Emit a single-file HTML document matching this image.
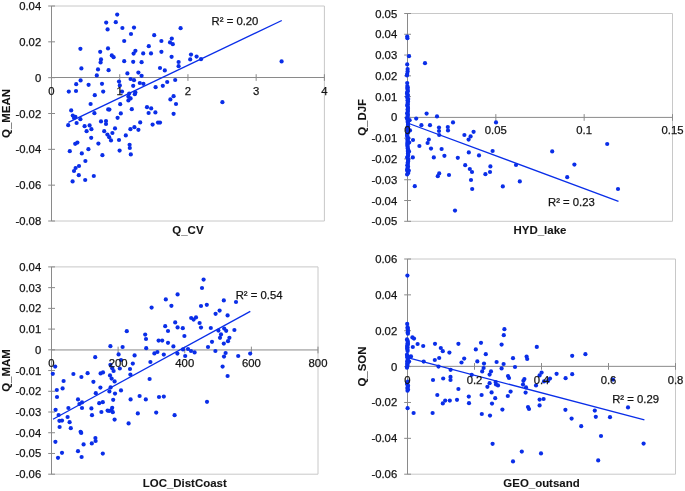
<!DOCTYPE html>
<html><head><meta charset="utf-8"><style>
html,body{margin:0;padding:0;background:#fff;}
svg{display:block;will-change:transform;}
text{font-family:"Liberation Sans",sans-serif;font-size:11.3px;fill:#141414;stroke:#141414;stroke-width:0.25px;}
.b{font-weight:bold;font-size:11.45px;stroke-width:0.08px;}
</style></head><body>
<svg width="685" height="491" viewBox="0 0 685 491">
<rect width="685" height="491" fill="#fff"/>
<path d="M51.5 6H324.4V221" fill="none" stroke="#c8c8c8" stroke-width="1"/>
<path d="M51.5 221H324.4" fill="none" stroke="#c8c8c8" stroke-width="1"/>
<path d="M51.5 6V221" stroke="#8a8a8a" stroke-width="1"/>
<path d="M51.5 77.50H324.4" stroke="#8a8a8a" stroke-width="1"/>
<path d="M48.2 6.00H55.0" stroke="#8a8a8a" stroke-width="1"/>
<path d="M48.2 41.83H55.0" stroke="#8a8a8a" stroke-width="1"/>
<path d="M48.2 77.67H55.0" stroke="#8a8a8a" stroke-width="1"/>
<path d="M48.2 113.50H55.0" stroke="#8a8a8a" stroke-width="1"/>
<path d="M48.2 149.33H55.0" stroke="#8a8a8a" stroke-width="1"/>
<path d="M48.2 185.17H55.0" stroke="#8a8a8a" stroke-width="1"/>
<path d="M48.2 221.00H55.0" stroke="#8a8a8a" stroke-width="1"/>
<path d="M51.50 74.20V80.90" stroke="#8a8a8a" stroke-width="1"/>
<path d="M119.72 74.20V80.90" stroke="#8a8a8a" stroke-width="1"/>
<path d="M187.95 74.20V80.90" stroke="#8a8a8a" stroke-width="1"/>
<path d="M256.17 74.20V80.90" stroke="#8a8a8a" stroke-width="1"/>
<path d="M324.40 74.20V80.90" stroke="#8a8a8a" stroke-width="1"/>
<g fill="#0a2ee8"><circle cx="117.2" cy="14.6" r="2.1"/><circle cx="106.2" cy="22.6" r="2.1"/><circle cx="115.8" cy="22.2" r="2.1"/><circle cx="107.6" cy="29.4" r="2.1"/><circle cx="122.4" cy="28.0" r="2.1"/><circle cx="134.0" cy="27.6" r="2.1"/><circle cx="180.6" cy="28.2" r="2.1"/><circle cx="131.0" cy="34.0" r="2.1"/><circle cx="154.2" cy="35.2" r="2.1"/><circle cx="124.2" cy="41.0" r="2.1"/><circle cx="161.4" cy="41.0" r="2.1"/><circle cx="171.8" cy="38.6" r="2.1"/><circle cx="170.0" cy="42.4" r="2.1"/><circle cx="172.8" cy="44.2" r="2.1"/><circle cx="80.4" cy="48.8" r="2.1"/><circle cx="108.0" cy="48.4" r="2.1"/><circle cx="148.8" cy="46.2" r="2.1"/><circle cx="100.2" cy="51.8" r="2.1"/><circle cx="135.4" cy="50.8" r="2.1"/><circle cx="133.6" cy="53.6" r="2.1"/><circle cx="143.2" cy="53.4" r="2.1"/><circle cx="151.0" cy="53.4" r="2.1"/><circle cx="161.4" cy="51.8" r="2.1"/><circle cx="111.8" cy="55.4" r="2.1"/><circle cx="113.6" cy="57.2" r="2.1"/><circle cx="171.6" cy="56.8" r="2.1"/><circle cx="101.0" cy="59.4" r="2.1"/><circle cx="100.6" cy="62.4" r="2.1"/><circle cx="124.2" cy="61.2" r="2.1"/><circle cx="133.2" cy="61.8" r="2.1"/><circle cx="141.6" cy="62.2" r="2.1"/><circle cx="178.6" cy="62.0" r="2.1"/><circle cx="178.6" cy="66.2" r="2.1"/><circle cx="81.4" cy="68.4" r="2.1"/><circle cx="98.0" cy="69.4" r="2.1"/><circle cx="108.6" cy="70.2" r="2.1"/><circle cx="160.0" cy="68.0" r="2.1"/><circle cx="164.8" cy="70.4" r="2.1"/><circle cx="127.4" cy="73.4" r="2.1"/><circle cx="138.4" cy="72.6" r="2.1"/><circle cx="96.8" cy="75.4" r="2.1"/><circle cx="141.6" cy="75.8" r="2.1"/><circle cx="80.6" cy="80.4" r="2.1"/><circle cx="119.0" cy="81.6" r="2.1"/><circle cx="130.6" cy="79.0" r="2.1"/><circle cx="134.0" cy="80.2" r="2.1"/><circle cx="175.2" cy="80.0" r="2.1"/><circle cx="76.2" cy="84.2" r="2.1"/><circle cx="88.6" cy="84.8" r="2.1"/><circle cx="102.0" cy="83.8" r="2.1"/><circle cx="139.8" cy="83.0" r="2.1"/><circle cx="143.4" cy="83.8" r="2.1"/><circle cx="167.2" cy="82.0" r="2.1"/><circle cx="119.8" cy="85.4" r="2.1"/><circle cx="133.2" cy="85.8" r="2.1"/><circle cx="155.6" cy="87.2" r="2.1"/><circle cx="162.8" cy="85.8" r="2.1"/><circle cx="68.8" cy="91.6" r="2.1"/><circle cx="76.0" cy="91.0" r="2.1"/><circle cx="103.2" cy="91.6" r="2.1"/><circle cx="122.0" cy="91.6" r="2.1"/><circle cx="94.8" cy="95.2" r="2.1"/><circle cx="129.2" cy="93.6" r="2.1"/><circle cx="135.4" cy="92.4" r="2.1"/><circle cx="134.8" cy="94.2" r="2.1"/><circle cx="173.6" cy="96.2" r="2.1"/><circle cx="128.4" cy="96.6" r="2.1"/><circle cx="130.6" cy="98.4" r="2.1"/><circle cx="170.4" cy="99.4" r="2.1"/><circle cx="128.4" cy="100.4" r="2.1"/><circle cx="191.0" cy="54.6" r="2.1"/><circle cx="190.2" cy="59.4" r="2.1"/><circle cx="196.6" cy="56.6" r="2.1"/><circle cx="201.0" cy="59.2" r="2.1"/><circle cx="281.6" cy="61.4" r="2.1"/><circle cx="90.6" cy="104.0" r="2.1"/><circle cx="176.0" cy="104.0" r="2.1"/><circle cx="120.2" cy="104.2" r="2.1"/><circle cx="71.2" cy="110.4" r="2.1"/><circle cx="108.2" cy="109.4" r="2.1"/><circle cx="109.4" cy="109.6" r="2.1"/><circle cx="131.8" cy="109.2" r="2.1"/><circle cx="147.0" cy="107.2" r="2.1"/><circle cx="151.2" cy="108.4" r="2.1"/><circle cx="94.4" cy="113.2" r="2.1"/><circle cx="120.8" cy="113.4" r="2.1"/><circle cx="148.6" cy="113.0" r="2.1"/><circle cx="155.4" cy="112.4" r="2.1"/><circle cx="173.6" cy="113.8" r="2.1"/><circle cx="72.8" cy="115.6" r="2.1"/><circle cx="75.4" cy="116.8" r="2.1"/><circle cx="74.0" cy="118.0" r="2.1"/><circle cx="80.4" cy="119.2" r="2.1"/><circle cx="117.6" cy="117.8" r="2.1"/><circle cx="68.2" cy="125.2" r="2.1"/><circle cx="76.6" cy="123.0" r="2.1"/><circle cx="101.0" cy="121.4" r="2.1"/><circle cx="106.0" cy="121.0" r="2.1"/><circle cx="106.0" cy="124.0" r="2.1"/><circle cx="140.2" cy="122.4" r="2.1"/><circle cx="158.0" cy="122.6" r="2.1"/><circle cx="160.0" cy="122.6" r="2.1"/><circle cx="152.6" cy="124.6" r="2.1"/><circle cx="84.6" cy="126.2" r="2.1"/><circle cx="89.6" cy="125.4" r="2.1"/><circle cx="91.4" cy="129.2" r="2.1"/><circle cx="86.6" cy="131.2" r="2.1"/><circle cx="115.0" cy="128.4" r="2.1"/><circle cx="104.2" cy="131.2" r="2.1"/><circle cx="112.4" cy="133.0" r="2.1"/><circle cx="130.4" cy="129.2" r="2.1"/><circle cx="134.4" cy="127.2" r="2.1"/><circle cx="138.4" cy="129.8" r="2.1"/><circle cx="107.4" cy="134.6" r="2.1"/><circle cx="109.2" cy="137.2" r="2.1"/><circle cx="111.0" cy="140.4" r="2.1"/><circle cx="125.8" cy="135.4" r="2.1"/><circle cx="91.2" cy="137.8" r="2.1"/><circle cx="119.0" cy="140.0" r="2.1"/><circle cx="77.4" cy="142.6" r="2.1"/><circle cx="75.2" cy="143.8" r="2.1"/><circle cx="98.4" cy="143.6" r="2.1"/><circle cx="129.6" cy="144.8" r="2.1"/><circle cx="129.8" cy="148.0" r="2.1"/><circle cx="88.4" cy="149.2" r="2.1"/><circle cx="69.8" cy="151.2" r="2.1"/><circle cx="119.6" cy="150.6" r="2.1"/><circle cx="81.8" cy="153.4" r="2.1"/><circle cx="102.4" cy="155.2" r="2.1"/><circle cx="130.8" cy="154.4" r="2.1"/><circle cx="85.4" cy="161.0" r="2.1"/><circle cx="79.0" cy="166.0" r="2.1"/><circle cx="75.6" cy="168.0" r="2.1"/><circle cx="74.0" cy="171.0" r="2.1"/><circle cx="78.8" cy="175.2" r="2.1"/><circle cx="93.8" cy="176.0" r="2.1"/><circle cx="72.6" cy="181.4" r="2.1"/><circle cx="85.2" cy="180.0" r="2.1"/><circle cx="222.4" cy="102.2" r="2.1"/></g>
<path d="M68.4 122.4L281.8 20.5" stroke="#0a2ee8" stroke-width="1.3"/>
<text x="211.6" y="25.0">R² = 0.20</text>
<text x="41.20" y="10.00" text-anchor="end">0.04</text>
<text x="41.20" y="45.83" text-anchor="end">0.02</text>
<text x="41.20" y="81.67" text-anchor="end">0</text>
<text x="41.20" y="117.50" text-anchor="end">-0.02</text>
<text x="41.20" y="153.33" text-anchor="end">-0.04</text>
<text x="41.20" y="189.17" text-anchor="end">-0.06</text>
<text x="41.20" y="225.00" text-anchor="end">-0.08</text>
<text x="51.50" y="94.50" text-anchor="middle">0</text>
<text x="119.72" y="94.50" text-anchor="middle">1</text>
<text x="187.95" y="94.50" text-anchor="middle">2</text>
<text x="256.17" y="94.50" text-anchor="middle">3</text>
<text x="324.40" y="94.50" text-anchor="middle">4</text>
<text x="187.95" y="233.70" text-anchor="middle" class="b">Q_CV</text>
<text transform="translate(9.70 113.50) rotate(-90)" text-anchor="middle" class="b">Q_MEAN</text>
<path d="M407.5 13.5H672.5V221.3" fill="none" stroke="#c8c8c8" stroke-width="1"/>
<path d="M407.5 221.3H672.5" fill="none" stroke="#c8c8c8" stroke-width="1"/>
<path d="M407.5 13.5V221.3" stroke="#8a8a8a" stroke-width="1"/>
<path d="M407.5 117.40H672.5" stroke="#8a8a8a" stroke-width="1"/>
<path d="M404.2 13.50H411.0" stroke="#8a8a8a" stroke-width="1"/>
<path d="M404.2 34.28H411.0" stroke="#8a8a8a" stroke-width="1"/>
<path d="M404.2 55.06H411.0" stroke="#8a8a8a" stroke-width="1"/>
<path d="M404.2 75.84H411.0" stroke="#8a8a8a" stroke-width="1"/>
<path d="M404.2 96.62H411.0" stroke="#8a8a8a" stroke-width="1"/>
<path d="M404.2 117.40H411.0" stroke="#8a8a8a" stroke-width="1"/>
<path d="M404.2 138.18H411.0" stroke="#8a8a8a" stroke-width="1"/>
<path d="M404.2 158.96H411.0" stroke="#8a8a8a" stroke-width="1"/>
<path d="M404.2 179.74H411.0" stroke="#8a8a8a" stroke-width="1"/>
<path d="M404.2 200.52H411.0" stroke="#8a8a8a" stroke-width="1"/>
<path d="M404.2 221.30H411.0" stroke="#8a8a8a" stroke-width="1"/>
<path d="M407.50 114.10V120.80" stroke="#8a8a8a" stroke-width="1"/>
<path d="M495.83 114.10V120.80" stroke="#8a8a8a" stroke-width="1"/>
<path d="M584.17 114.10V120.80" stroke="#8a8a8a" stroke-width="1"/>
<path d="M672.50 114.10V120.80" stroke="#8a8a8a" stroke-width="1"/>
<g fill="#0a2ee8"><circle cx="407.2" cy="36.6" r="2.1"/><circle cx="407.4" cy="38.2" r="2.1"/><circle cx="409.0" cy="56.2" r="2.1"/><circle cx="425.0" cy="63.2" r="2.1"/><circle cx="407.2" cy="64.4" r="2.1"/><circle cx="407.6" cy="69.0" r="2.1"/><circle cx="407.6" cy="71.4" r="2.1"/><circle cx="407.2" cy="74.0" r="2.1"/><circle cx="407.0" cy="75.4" r="2.1"/><circle cx="407.2" cy="83.0" r="2.1"/><circle cx="426.6" cy="113.6" r="2.1"/><circle cx="437.0" cy="116.4" r="2.1"/><circle cx="416.2" cy="118.6" r="2.1"/><circle cx="409.6" cy="120.2" r="2.1"/><circle cx="453.0" cy="122.4" r="2.1"/><circle cx="496.0" cy="122.4" r="2.1"/><circle cx="421.4" cy="125.2" r="2.1"/><circle cx="430.0" cy="125.2" r="2.1"/><circle cx="439.0" cy="127.6" r="2.1"/><circle cx="447.8" cy="127.0" r="2.1"/><circle cx="439.0" cy="131.0" r="2.1"/><circle cx="448.0" cy="130.4" r="2.1"/><circle cx="473.6" cy="131.8" r="2.1"/><circle cx="410.0" cy="130.4" r="2.1"/><circle cx="439.2" cy="135.0" r="2.1"/><circle cx="464.4" cy="135.0" r="2.1"/><circle cx="470.6" cy="136.4" r="2.1"/><circle cx="468.6" cy="139.6" r="2.1"/><circle cx="413.0" cy="140.0" r="2.1"/><circle cx="428.8" cy="139.6" r="2.1"/><circle cx="427.6" cy="143.0" r="2.1"/><circle cx="409.2" cy="142.6" r="2.1"/><circle cx="419.4" cy="146.0" r="2.1"/><circle cx="431.0" cy="148.6" r="2.1"/><circle cx="441.6" cy="149.0" r="2.1"/><circle cx="409.0" cy="151.4" r="2.1"/><circle cx="468.8" cy="152.4" r="2.1"/><circle cx="492.6" cy="151.0" r="2.1"/><circle cx="479.0" cy="155.4" r="2.1"/><circle cx="444.4" cy="155.8" r="2.1"/><circle cx="433.8" cy="157.4" r="2.1"/><circle cx="457.8" cy="157.8" r="2.1"/><circle cx="412.8" cy="157.4" r="2.1"/><circle cx="516.0" cy="165.0" r="2.1"/><circle cx="465.2" cy="165.2" r="2.1"/><circle cx="490.4" cy="166.4" r="2.1"/><circle cx="469.8" cy="169.0" r="2.1"/><circle cx="472.0" cy="172.0" r="2.1"/><circle cx="490.0" cy="172.0" r="2.1"/><circle cx="485.4" cy="174.2" r="2.1"/><circle cx="439.2" cy="173.4" r="2.1"/><circle cx="437.8" cy="176.2" r="2.1"/><circle cx="449.0" cy="175.0" r="2.1"/><circle cx="408.8" cy="170.6" r="2.1"/><circle cx="471.0" cy="180.0" r="2.1"/><circle cx="519.8" cy="181.4" r="2.1"/><circle cx="414.8" cy="186.2" r="2.1"/><circle cx="502.8" cy="186.4" r="2.1"/><circle cx="472.2" cy="189.0" r="2.1"/><circle cx="552.2" cy="151.4" r="2.1"/><circle cx="607.2" cy="144.0" r="2.1"/><circle cx="574.4" cy="164.6" r="2.1"/><circle cx="567.2" cy="177.2" r="2.1"/><circle cx="618.0" cy="189.0" r="2.1"/><circle cx="455.0" cy="210.6" r="2.1"/><circle cx="407.3" cy="86.0" r="2.1"/><circle cx="407.7" cy="87.3" r="2.1"/><circle cx="407.4" cy="88.6" r="2.1"/><circle cx="407.7" cy="89.9" r="2.1"/><circle cx="407.8" cy="91.2" r="2.1"/><circle cx="407.1" cy="92.5" r="2.1"/><circle cx="407.0" cy="93.8" r="2.1"/><circle cx="408.0" cy="95.1" r="2.1"/><circle cx="407.3" cy="96.4" r="2.1"/><circle cx="407.3" cy="97.7" r="2.1"/><circle cx="408.2" cy="99.0" r="2.1"/><circle cx="407.6" cy="100.3" r="2.1"/><circle cx="408.0" cy="101.6" r="2.1"/><circle cx="407.6" cy="102.9" r="2.1"/><circle cx="407.8" cy="104.2" r="2.1"/><circle cx="407.2" cy="105.5" r="2.1"/><circle cx="407.8" cy="106.8" r="2.1"/><circle cx="408.0" cy="108.1" r="2.1"/><circle cx="407.6" cy="109.4" r="2.1"/><circle cx="407.9" cy="110.7" r="2.1"/><circle cx="407.8" cy="112.0" r="2.1"/><circle cx="407.1" cy="113.3" r="2.1"/><circle cx="407.9" cy="114.6" r="2.1"/><circle cx="407.7" cy="115.9" r="2.1"/><circle cx="407.4" cy="117.2" r="2.1"/><circle cx="407.0" cy="118.5" r="2.1"/><circle cx="408.0" cy="119.8" r="2.1"/><circle cx="407.6" cy="121.1" r="2.1"/><circle cx="407.9" cy="122.4" r="2.1"/><circle cx="408.1" cy="123.7" r="2.1"/><circle cx="407.9" cy="125.0" r="2.1"/><circle cx="408.1" cy="126.3" r="2.1"/><circle cx="407.5" cy="127.6" r="2.1"/><circle cx="408.0" cy="128.9" r="2.1"/><circle cx="407.5" cy="130.2" r="2.1"/><circle cx="408.1" cy="131.5" r="2.1"/><circle cx="408.1" cy="132.8" r="2.1"/><circle cx="407.1" cy="134.1" r="2.1"/><circle cx="407.2" cy="135.4" r="2.1"/><circle cx="407.3" cy="136.7" r="2.1"/><circle cx="408.2" cy="138.0" r="2.1"/><circle cx="407.5" cy="139.3" r="2.1"/><circle cx="407.8" cy="140.6" r="2.1"/><circle cx="407.4" cy="141.9" r="2.1"/><circle cx="407.6" cy="143.2" r="2.1"/><circle cx="407.5" cy="144.5" r="2.1"/><circle cx="407.4" cy="145.8" r="2.1"/><circle cx="407.7" cy="147.1" r="2.1"/><circle cx="407.7" cy="148.4" r="2.1"/><circle cx="408.1" cy="149.7" r="2.1"/><circle cx="407.8" cy="151.0" r="2.1"/><circle cx="408.1" cy="152.3" r="2.1"/><circle cx="408.0" cy="153.6" r="2.1"/><circle cx="408.2" cy="154.9" r="2.1"/><circle cx="407.8" cy="156.2" r="2.1"/><circle cx="407.2" cy="157.5" r="2.1"/><circle cx="408.0" cy="158.8" r="2.1"/><circle cx="408.2" cy="160.1" r="2.1"/><circle cx="408.1" cy="161.4" r="2.1"/><circle cx="407.7" cy="162.7" r="2.1"/><circle cx="407.9" cy="164.0" r="2.1"/><circle cx="407.3" cy="165.3" r="2.1"/><circle cx="408.0" cy="166.6" r="2.1"/><circle cx="407.7" cy="167.9" r="2.1"/><circle cx="407.3" cy="169.2" r="2.1"/><circle cx="407.1" cy="170.5" r="2.1"/><circle cx="408.0" cy="171.8" r="2.1"/><circle cx="408.2" cy="173.1" r="2.1"/><circle cx="407.1" cy="174.4" r="2.1"/></g>
<path d="M407.5 123.0L618.5 201.3" stroke="#0a2ee8" stroke-width="1.3"/>
<text x="548" y="206">R² = 0.23</text>
<text x="397.20" y="17.50" text-anchor="end">0.05</text>
<text x="397.20" y="38.28" text-anchor="end">0.04</text>
<text x="397.20" y="59.06" text-anchor="end">0.03</text>
<text x="397.20" y="79.84" text-anchor="end">0.02</text>
<text x="397.20" y="100.62" text-anchor="end">0.01</text>
<text x="397.20" y="121.40" text-anchor="end">0</text>
<text x="397.20" y="142.18" text-anchor="end">-0.01</text>
<text x="397.20" y="162.96" text-anchor="end">-0.02</text>
<text x="397.20" y="183.74" text-anchor="end">-0.03</text>
<text x="397.20" y="204.52" text-anchor="end">-0.04</text>
<text x="397.20" y="225.30" text-anchor="end">-0.05</text>
<text x="407.50" y="134.40" text-anchor="middle">0</text>
<text x="495.83" y="134.40" text-anchor="middle">0.05</text>
<text x="584.17" y="134.40" text-anchor="middle">0.1</text>
<text x="672.50" y="134.40" text-anchor="middle">0.15</text>
<text x="540.00" y="233.80" text-anchor="middle" class="b">HYD_lake</text>
<text transform="translate(365.70 117.40) rotate(-90)" text-anchor="middle" class="b">Q_DJF</text>
<path d="M51.5 266.9H318V474.2" fill="none" stroke="#c8c8c8" stroke-width="1"/>
<path d="M51.5 474.2H318" fill="none" stroke="#c8c8c8" stroke-width="1"/>
<path d="M51.5 266.9V474.2" stroke="#8a8a8a" stroke-width="1"/>
<path d="M51.5 349.95H318" stroke="#8a8a8a" stroke-width="1"/>
<path d="M48.2 266.90H55.0" stroke="#8a8a8a" stroke-width="1"/>
<path d="M48.2 287.63H55.0" stroke="#8a8a8a" stroke-width="1"/>
<path d="M48.2 308.36H55.0" stroke="#8a8a8a" stroke-width="1"/>
<path d="M48.2 329.09H55.0" stroke="#8a8a8a" stroke-width="1"/>
<path d="M48.2 349.82H55.0" stroke="#8a8a8a" stroke-width="1"/>
<path d="M48.2 370.55H55.0" stroke="#8a8a8a" stroke-width="1"/>
<path d="M48.2 391.28H55.0" stroke="#8a8a8a" stroke-width="1"/>
<path d="M48.2 412.01H55.0" stroke="#8a8a8a" stroke-width="1"/>
<path d="M48.2 432.74H55.0" stroke="#8a8a8a" stroke-width="1"/>
<path d="M48.2 453.47H55.0" stroke="#8a8a8a" stroke-width="1"/>
<path d="M48.2 474.20H55.0" stroke="#8a8a8a" stroke-width="1"/>
<path d="M51.50 346.65V353.35" stroke="#8a8a8a" stroke-width="1"/>
<path d="M118.12 346.65V353.35" stroke="#8a8a8a" stroke-width="1"/>
<path d="M184.75 346.65V353.35" stroke="#8a8a8a" stroke-width="1"/>
<path d="M251.38 346.65V353.35" stroke="#8a8a8a" stroke-width="1"/>
<path d="M318.00 346.65V353.35" stroke="#8a8a8a" stroke-width="1"/>
<g fill="#0a2ee8"><circle cx="177.6" cy="294.4" r="2.1"/><circle cx="165.8" cy="299.4" r="2.1"/><circle cx="171.4" cy="305.8" r="2.1"/><circle cx="151.6" cy="307.6" r="2.1"/><circle cx="175.2" cy="322.4" r="2.1"/><circle cx="165.2" cy="326.2" r="2.1"/><circle cx="177.6" cy="327.4" r="2.1"/><circle cx="182.8" cy="328.2" r="2.1"/><circle cx="168.0" cy="331.0" r="2.1"/><circle cx="126.8" cy="331.2" r="2.1"/><circle cx="145.2" cy="334.6" r="2.1"/><circle cx="184.4" cy="336.0" r="2.1"/><circle cx="146.0" cy="339.0" r="2.1"/><circle cx="158.6" cy="340.6" r="2.1"/><circle cx="162.2" cy="340.6" r="2.1"/><circle cx="168.0" cy="342.8" r="2.1"/><circle cx="110.4" cy="346.2" r="2.1"/><circle cx="122.6" cy="347.0" r="2.1"/><circle cx="173.4" cy="346.4" r="2.1"/><circle cx="146.2" cy="348.2" r="2.1"/><circle cx="183.0" cy="349.4" r="2.1"/><circle cx="157.4" cy="352.0" r="2.1"/><circle cx="154.4" cy="353.4" r="2.1"/><circle cx="177.4" cy="353.6" r="2.1"/><circle cx="163.8" cy="354.6" r="2.1"/><circle cx="118.6" cy="354.4" r="2.1"/><circle cx="134.6" cy="355.4" r="2.1"/><circle cx="185.2" cy="356.0" r="2.1"/><circle cx="95.2" cy="357.2" r="2.1"/><circle cx="121.0" cy="360.0" r="2.1"/><circle cx="132.8" cy="363.6" r="2.1"/><circle cx="150.4" cy="362.0" r="2.1"/><circle cx="110.4" cy="364.8" r="2.1"/><circle cx="55.2" cy="366.6" r="2.1"/><circle cx="203.6" cy="279.6" r="2.1"/><circle cx="202.0" cy="288.0" r="2.1"/><circle cx="223.8" cy="300.4" r="2.1"/><circle cx="236.0" cy="302.0" r="2.1"/><circle cx="201.0" cy="306.0" r="2.1"/><circle cx="206.8" cy="304.8" r="2.1"/><circle cx="219.6" cy="310.6" r="2.1"/><circle cx="215.6" cy="313.8" r="2.1"/><circle cx="227.6" cy="315.4" r="2.1"/><circle cx="191.2" cy="318.0" r="2.1"/><circle cx="193.6" cy="319.6" r="2.1"/><circle cx="196.0" cy="317.4" r="2.1"/><circle cx="199.6" cy="323.0" r="2.1"/><circle cx="201.0" cy="327.6" r="2.1"/><circle cx="210.8" cy="328.0" r="2.1"/><circle cx="218.4" cy="330.6" r="2.1"/><circle cx="224.2" cy="328.6" r="2.1"/><circle cx="226.2" cy="330.8" r="2.1"/><circle cx="234.4" cy="330.0" r="2.1"/><circle cx="221.0" cy="334.4" r="2.1"/><circle cx="220.0" cy="337.8" r="2.1"/><circle cx="229.4" cy="337.8" r="2.1"/><circle cx="228.0" cy="341.2" r="2.1"/><circle cx="212.0" cy="341.8" r="2.1"/><circle cx="223.8" cy="343.6" r="2.1"/><circle cx="208.0" cy="347.0" r="2.1"/><circle cx="188.0" cy="349.0" r="2.1"/><circle cx="191.0" cy="351.0" r="2.1"/><circle cx="194.6" cy="352.4" r="2.1"/><circle cx="215.4" cy="351.0" r="2.1"/><circle cx="225.6" cy="353.0" r="2.1"/><circle cx="224.0" cy="356.6" r="2.1"/><circle cx="238.2" cy="356.0" r="2.1"/><circle cx="250.2" cy="353.6" r="2.1"/><circle cx="222.6" cy="366.6" r="2.1"/><circle cx="52.8" cy="373.8" r="2.1"/><circle cx="73.4" cy="374.0" r="2.1"/><circle cx="81.4" cy="377.0" r="2.1"/><circle cx="87.6" cy="373.2" r="2.1"/><circle cx="100.6" cy="373.4" r="2.1"/><circle cx="103.0" cy="372.4" r="2.1"/><circle cx="113.6" cy="371.0" r="2.1"/><circle cx="130.0" cy="369.0" r="2.1"/><circle cx="130.4" cy="374.6" r="2.1"/><circle cx="110.0" cy="375.4" r="2.1"/><circle cx="111.6" cy="378.6" r="2.1"/><circle cx="114.6" cy="381.4" r="2.1"/><circle cx="63.6" cy="381.0" r="2.1"/><circle cx="93.4" cy="381.8" r="2.1"/><circle cx="149.6" cy="379.0" r="2.1"/><circle cx="56.8" cy="390.0" r="2.1"/><circle cx="62.6" cy="388.4" r="2.1"/><circle cx="100.4" cy="387.6" r="2.1"/><circle cx="110.6" cy="387.4" r="2.1"/><circle cx="109.4" cy="391.4" r="2.1"/><circle cx="121.0" cy="390.4" r="2.1"/><circle cx="95.8" cy="393.2" r="2.1"/><circle cx="115.0" cy="393.6" r="2.1"/><circle cx="57.0" cy="397.0" r="2.1"/><circle cx="78.0" cy="399.4" r="2.1"/><circle cx="82.0" cy="402.4" r="2.1"/><circle cx="79.4" cy="404.0" r="2.1"/><circle cx="113.2" cy="399.8" r="2.1"/><circle cx="130.6" cy="399.4" r="2.1"/><circle cx="139.6" cy="396.0" r="2.1"/><circle cx="145.8" cy="399.4" r="2.1"/><circle cx="159.0" cy="397.0" r="2.1"/><circle cx="163.8" cy="396.6" r="2.1"/><circle cx="99.2" cy="403.2" r="2.1"/><circle cx="102.8" cy="402.2" r="2.1"/><circle cx="55.6" cy="409.8" r="2.1"/><circle cx="68.4" cy="408.0" r="2.1"/><circle cx="82.0" cy="408.0" r="2.1"/><circle cx="91.4" cy="408.4" r="2.1"/><circle cx="112.2" cy="407.8" r="2.1"/><circle cx="111.4" cy="410.0" r="2.1"/><circle cx="107.6" cy="410.6" r="2.1"/><circle cx="109.2" cy="411.0" r="2.1"/><circle cx="112.8" cy="412.2" r="2.1"/><circle cx="101.4" cy="412.0" r="2.1"/><circle cx="58.6" cy="415.0" r="2.1"/><circle cx="92.0" cy="415.2" r="2.1"/><circle cx="137.8" cy="413.4" r="2.1"/><circle cx="156.2" cy="412.6" r="2.1"/><circle cx="174.6" cy="415.2" r="2.1"/><circle cx="67.6" cy="417.0" r="2.1"/><circle cx="59.4" cy="420.8" r="2.1"/><circle cx="62.0" cy="420.6" r="2.1"/><circle cx="69.6" cy="422.2" r="2.1"/><circle cx="114.6" cy="419.6" r="2.1"/><circle cx="128.6" cy="423.4" r="2.1"/><circle cx="59.6" cy="427.0" r="2.1"/><circle cx="70.8" cy="428.2" r="2.1"/><circle cx="80.6" cy="431.8" r="2.1"/><circle cx="95.4" cy="438.0" r="2.1"/><circle cx="95.6" cy="441.0" r="2.1"/><circle cx="55.4" cy="441.8" r="2.1"/><circle cx="83.6" cy="444.4" r="2.1"/><circle cx="91.8" cy="443.4" r="2.1"/><circle cx="78.0" cy="451.2" r="2.1"/><circle cx="62.0" cy="452.8" r="2.1"/><circle cx="102.8" cy="453.6" r="2.1"/><circle cx="58.0" cy="457.8" r="2.1"/><circle cx="81.6" cy="457.0" r="2.1"/><circle cx="81.2" cy="432.9" r="2.1"/><circle cx="227.6" cy="376.0" r="2.1"/><circle cx="207.0" cy="401.8" r="2.1"/><circle cx="112.2" cy="368.2" r="2.1"/><circle cx="119.8" cy="368.5" r="2.1"/></g>
<path d="M53 419.3L250.3 311.4" stroke="#0a2ee8" stroke-width="1.3"/>
<text x="235.7" y="298.9">R² = 0.54</text>
<text x="41.20" y="270.90" text-anchor="end">0.04</text>
<text x="41.20" y="291.63" text-anchor="end">0.03</text>
<text x="41.20" y="312.36" text-anchor="end">0.02</text>
<text x="41.20" y="333.09" text-anchor="end">0.01</text>
<text x="41.20" y="353.82" text-anchor="end">0</text>
<text x="41.20" y="374.55" text-anchor="end">-0.01</text>
<text x="41.20" y="395.28" text-anchor="end">-0.02</text>
<text x="41.20" y="416.01" text-anchor="end">-0.03</text>
<text x="41.20" y="436.74" text-anchor="end">-0.04</text>
<text x="41.20" y="457.47" text-anchor="end">-0.05</text>
<text x="41.20" y="478.20" text-anchor="end">-0.06</text>
<text x="51.50" y="366.95" text-anchor="middle">0</text>
<text x="118.12" y="366.95" text-anchor="middle">200</text>
<text x="184.75" y="366.95" text-anchor="middle">400</text>
<text x="251.38" y="366.95" text-anchor="middle">600</text>
<text x="318.00" y="366.95" text-anchor="middle">800</text>
<text x="184.75" y="486.80" text-anchor="middle" class="b">LOC_DistCoast</text>
<text transform="translate(9.70 370.55) rotate(-90)" text-anchor="middle" class="b">Q_MAM</text>
<path d="M407.5 259.0H675.5V474.2" fill="none" stroke="#c8c8c8" stroke-width="1"/>
<path d="M407.5 474.2H675.5" fill="none" stroke="#c8c8c8" stroke-width="1"/>
<path d="M407.5 259.0V474.2" stroke="#8a8a8a" stroke-width="1"/>
<path d="M407.5 366.35H675.5" stroke="#8a8a8a" stroke-width="1"/>
<path d="M404.2 259.00H411.0" stroke="#8a8a8a" stroke-width="1"/>
<path d="M404.2 294.87H411.0" stroke="#8a8a8a" stroke-width="1"/>
<path d="M404.2 330.73H411.0" stroke="#8a8a8a" stroke-width="1"/>
<path d="M404.2 366.60H411.0" stroke="#8a8a8a" stroke-width="1"/>
<path d="M404.2 402.47H411.0" stroke="#8a8a8a" stroke-width="1"/>
<path d="M404.2 438.33H411.0" stroke="#8a8a8a" stroke-width="1"/>
<path d="M404.2 474.20H411.0" stroke="#8a8a8a" stroke-width="1"/>
<path d="M407.50 363.05V369.75" stroke="#8a8a8a" stroke-width="1"/>
<path d="M474.50 363.05V369.75" stroke="#8a8a8a" stroke-width="1"/>
<path d="M541.50 363.05V369.75" stroke="#8a8a8a" stroke-width="1"/>
<path d="M608.50 363.05V369.75" stroke="#8a8a8a" stroke-width="1"/>
<path d="M675.50 363.05V369.75" stroke="#8a8a8a" stroke-width="1"/>
<g fill="#0a2ee8"><circle cx="504.4" cy="329.2" r="2.1"/><circle cx="503.8" cy="335.2" r="2.1"/><circle cx="412.4" cy="337.4" r="2.1"/><circle cx="414.0" cy="338.6" r="2.1"/><circle cx="417.6" cy="344.0" r="2.1"/><circle cx="423.2" cy="346.0" r="2.1"/><circle cx="412.8" cy="347.0" r="2.1"/><circle cx="435.0" cy="343.8" r="2.1"/><circle cx="458.4" cy="343.8" r="2.1"/><circle cx="481.0" cy="342.8" r="2.1"/><circle cx="501.6" cy="344.6" r="2.1"/><circle cx="536.8" cy="346.9" r="2.1"/><circle cx="440.8" cy="348.0" r="2.1"/><circle cx="442.8" cy="351.2" r="2.1"/><circle cx="449.4" cy="352.6" r="2.1"/><circle cx="475.8" cy="349.4" r="2.1"/><circle cx="485.8" cy="354.2" r="2.1"/><circle cx="411.0" cy="356.4" r="2.1"/><circle cx="439.2" cy="358.0" r="2.1"/><circle cx="464.2" cy="358.6" r="2.1"/><circle cx="513.0" cy="358.2" r="2.1"/><circle cx="526.6" cy="356.6" r="2.1"/><circle cx="527.2" cy="359.0" r="2.1"/><circle cx="434.8" cy="360.0" r="2.1"/><circle cx="409.1" cy="361.6" r="2.1"/><circle cx="423.7" cy="361.6" r="2.1"/><circle cx="461.5" cy="362.5" r="2.1"/><circle cx="477.3" cy="361.4" r="2.1"/><circle cx="438.5" cy="366.6" r="2.1"/><circle cx="450.6" cy="369.8" r="2.1"/><circle cx="471.7" cy="374.8" r="2.1"/><circle cx="433.0" cy="380.0" r="2.1"/><circle cx="443.2" cy="378.5" r="2.1"/><circle cx="450.5" cy="376.9" r="2.1"/><circle cx="450.5" cy="380.0" r="2.1"/><circle cx="458.4" cy="389.0" r="2.1"/><circle cx="437.3" cy="395.0" r="2.1"/><circle cx="484.0" cy="363.6" r="2.1"/><circle cx="496.6" cy="362.0" r="2.1"/><circle cx="503.6" cy="364.0" r="2.1"/><circle cx="483.6" cy="368.0" r="2.1"/><circle cx="482.2" cy="371.4" r="2.1"/><circle cx="491.0" cy="371.4" r="2.1"/><circle cx="489.6" cy="374.6" r="2.1"/><circle cx="501.6" cy="368.4" r="2.1"/><circle cx="515.0" cy="367.0" r="2.1"/><circle cx="508.0" cy="376.0" r="2.1"/><circle cx="509.0" cy="378.0" r="2.1"/><circle cx="524.4" cy="379.0" r="2.1"/><circle cx="523.4" cy="380.8" r="2.1"/><circle cx="489.6" cy="383.2" r="2.1"/><circle cx="495.6" cy="382.0" r="2.1"/><circle cx="496.0" cy="384.4" r="2.1"/><circle cx="498.0" cy="385.4" r="2.1"/><circle cx="487.4" cy="386.8" r="2.1"/><circle cx="523.0" cy="384.6" r="2.1"/><circle cx="526.0" cy="387.4" r="2.1"/><circle cx="536.0" cy="385.4" r="2.1"/><circle cx="491.6" cy="392.4" r="2.1"/><circle cx="510.6" cy="391.6" r="2.1"/><circle cx="525.6" cy="392.6" r="2.1"/><circle cx="468.8" cy="396.6" r="2.1"/><circle cx="481.6" cy="395.0" r="2.1"/><circle cx="495.2" cy="398.2" r="2.1"/><circle cx="507.8" cy="396.0" r="2.1"/><circle cx="445.2" cy="400.6" r="2.1"/><circle cx="442.8" cy="403.4" r="2.1"/><circle cx="449.8" cy="400.6" r="2.1"/><circle cx="457.0" cy="399.8" r="2.1"/><circle cx="469.0" cy="403.2" r="2.1"/><circle cx="492.0" cy="403.6" r="2.1"/><circle cx="407.6" cy="408.2" r="2.1"/><circle cx="413.6" cy="413.0" r="2.1"/><circle cx="432.6" cy="413.0" r="2.1"/><circle cx="481.8" cy="414.0" r="2.1"/><circle cx="490.0" cy="415.6" r="2.1"/><circle cx="502.4" cy="409.6" r="2.1"/><circle cx="528.0" cy="407.0" r="2.1"/><circle cx="529.0" cy="409.0" r="2.1"/><circle cx="492.6" cy="443.8" r="2.1"/><circle cx="521.8" cy="451.6" r="2.1"/><circle cx="572.2" cy="355.8" r="2.1"/><circle cx="585.4" cy="354.2" r="2.1"/><circle cx="541.6" cy="372.6" r="2.1"/><circle cx="539.6" cy="375.4" r="2.1"/><circle cx="556.6" cy="373.8" r="2.1"/><circle cx="572.2" cy="374.2" r="2.1"/><circle cx="565.6" cy="378.2" r="2.1"/><circle cx="550.0" cy="378.6" r="2.1"/><circle cx="548.0" cy="381.0" r="2.1"/><circle cx="544.0" cy="381.4" r="2.1"/><circle cx="613.0" cy="379.6" r="2.1"/><circle cx="539.6" cy="399.6" r="2.1"/><circle cx="543.6" cy="399.0" r="2.1"/><circle cx="539.6" cy="405.4" r="2.1"/><circle cx="565.4" cy="409.8" r="2.1"/><circle cx="594.8" cy="410.6" r="2.1"/><circle cx="595.8" cy="416.8" r="2.1"/><circle cx="610.0" cy="417.2" r="2.1"/><circle cx="628.0" cy="407.4" r="2.1"/><circle cx="571.6" cy="418.6" r="2.1"/><circle cx="581.2" cy="426.2" r="2.1"/><circle cx="601.0" cy="436.0" r="2.1"/><circle cx="643.6" cy="443.6" r="2.1"/><circle cx="541.0" cy="453.4" r="2.1"/><circle cx="598.2" cy="460.4" r="2.1"/><circle cx="513.0" cy="461.4" r="2.1"/><circle cx="407.4" cy="275.6" r="2.1"/><circle cx="407.2" cy="323.9" r="2.1"/><circle cx="410.2" cy="356.9" r="2.1"/><circle cx="407.6" cy="327.2" r="2.1"/><circle cx="407.7" cy="328.5" r="2.1"/><circle cx="407.8" cy="329.8" r="2.1"/><circle cx="407.9" cy="331.1" r="2.1"/><circle cx="407.7" cy="332.4" r="2.1"/><circle cx="407.9" cy="333.7" r="2.1"/><circle cx="407.0" cy="339.4" r="2.1"/><circle cx="407.5" cy="340.7" r="2.1"/><circle cx="407.9" cy="342.0" r="2.1"/><circle cx="407.6" cy="343.3" r="2.1"/><circle cx="407.9" cy="344.6" r="2.1"/><circle cx="407.1" cy="345.9" r="2.1"/><circle cx="407.5" cy="347.2" r="2.1"/><circle cx="407.2" cy="348.5" r="2.1"/><circle cx="407.5" cy="349.8" r="2.1"/><circle cx="407.6" cy="351.1" r="2.1"/><circle cx="407.0" cy="354.7" r="2.1"/><circle cx="407.2" cy="356.0" r="2.1"/><circle cx="407.3" cy="357.3" r="2.1"/><circle cx="407.9" cy="358.6" r="2.1"/><circle cx="407.8" cy="359.9" r="2.1"/><circle cx="407.2" cy="361.2" r="2.1"/><circle cx="407.8" cy="362.5" r="2.1"/><circle cx="407.1" cy="363.8" r="2.1"/><circle cx="407.6" cy="365.1" r="2.1"/><circle cx="407.1" cy="366.4" r="2.1"/><circle cx="407.0" cy="367.7" r="2.1"/><circle cx="407.9" cy="381.6" r="2.1"/><circle cx="407.2" cy="382.9" r="2.1"/><circle cx="407.2" cy="384.2" r="2.1"/><circle cx="408.0" cy="385.5" r="2.1"/><circle cx="407.9" cy="386.8" r="2.1"/><circle cx="407.3" cy="388.1" r="2.1"/><circle cx="408.0" cy="389.4" r="2.1"/><circle cx="407.5" cy="390.7" r="2.1"/></g>
<path d="M409.4 358.1L644.4 419.9" stroke="#0a2ee8" stroke-width="1.3"/>
<text x="612.2" y="402.7">R² = 0.29</text>
<text x="397.20" y="263.00" text-anchor="end">0.06</text>
<text x="397.20" y="298.87" text-anchor="end">0.04</text>
<text x="397.20" y="334.73" text-anchor="end">0.02</text>
<text x="397.20" y="370.60" text-anchor="end">0</text>
<text x="397.20" y="406.47" text-anchor="end">-0.02</text>
<text x="397.20" y="442.33" text-anchor="end">-0.04</text>
<text x="397.20" y="478.20" text-anchor="end">-0.06</text>
<text x="407.50" y="383.95" text-anchor="middle">0</text>
<text x="474.50" y="383.95" text-anchor="middle">0.2</text>
<text x="541.50" y="383.95" text-anchor="middle">0.4</text>
<text x="608.50" y="383.95" text-anchor="middle">0.6</text>
<text x="675.50" y="383.95" text-anchor="middle">0.8</text>
<text x="541.50" y="486.90" text-anchor="middle" class="b">GEO_outsand</text>
<text transform="translate(365.70 366.60) rotate(-90)" text-anchor="middle" class="b">Q_SON</text>
</svg>
</body></html>
